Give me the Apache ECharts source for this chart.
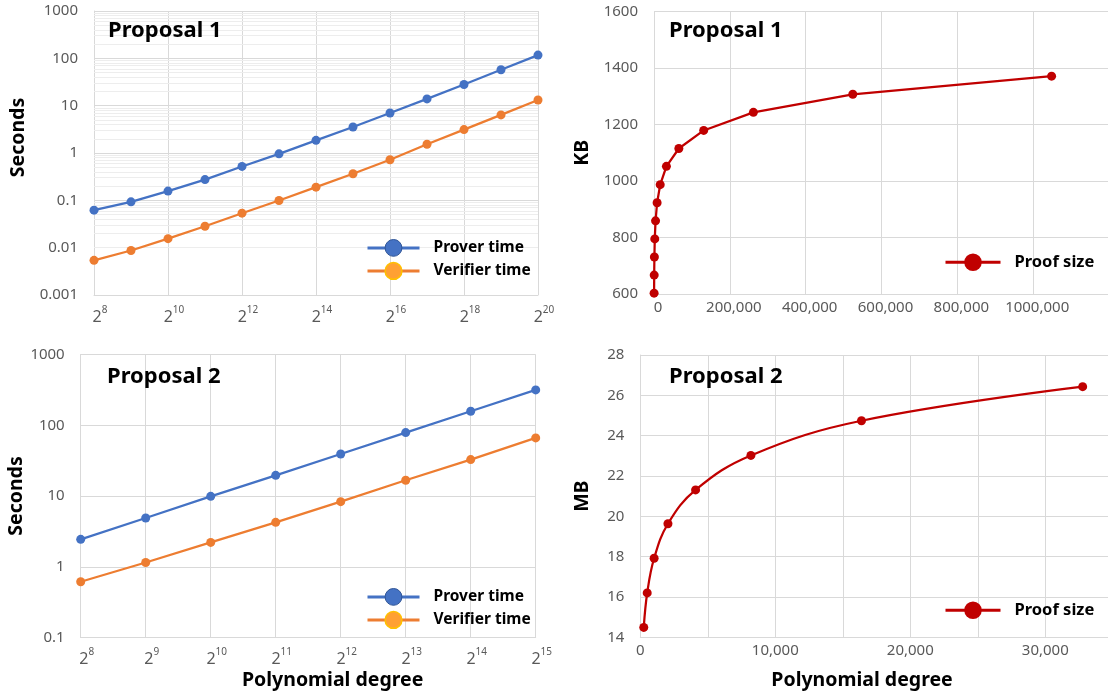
<!DOCTYPE html>
<html><head><meta charset="utf-8">
<script src="https://cdn.jsdelivr.net/npm/echarts@6/dist/echarts.min.js"></script>
<style>html,body{margin:0;padding:0;background:#fff}#c{width:1108px;height:695px}</style>
</head><body><div id="c"></div>
<script>
// ---------- data ----------
const p1Exponents = [8, 9, 10, 11, 12, 13, 14, 15, 16, 17, 18, 19, 20];
const p1ProverTime = [0.062, 0.093, 0.157, 0.274, 0.52, 0.96, 1.85, 3.55, 7.0, 13.9, 28.0, 57.3, 117];
const p1VerifierTime = [0.0054, 0.0087, 0.0155, 0.0283, 0.0535, 0.099, 0.19, 0.365, 0.72, 1.53, 3.12, 6.38, 13.2];

const p2Exponents = [8, 9, 10, 11, 12, 13, 14, 15];
const p2ProverTime = [2.44, 4.89, 9.89, 19.6, 39.3, 78.7, 158, 316];
const p2VerifierTime = [0.614, 1.15, 2.21, 4.24, 8.31, 16.7, 32.7, 66.2];

const p1Degrees = [256, 512, 1024, 2048, 4096, 8192, 16384, 32768, 65536, 131072, 262144, 524288, 1048576];
const p1ProofSizeKB = [603, 667, 731, 795, 859, 923, 987, 1052, 1115, 1179, 1243, 1307, 1371];

const p2Degrees = [256, 512, 1024, 2048, 4096, 8192, 16384, 32768];
const p2ProofSizeMB = [14.49, 16.2, 17.92, 19.63, 21.31, 23.02, 24.74, 26.43];

const logTickLabels = ['0.001', '0.01', '0.1', '1', '10', '100', '1000'];
const p1SizeXTickLabels = ['0', '200,000', '400,000', '600,000', '800,000', '1000,000', ''];
const p2SizeXTickLabels = ['0', '', '10,000', '', '20,000', '', '30,000', ''];
const seriesNames = ['Prover time', 'Verifier time', 'Proof size'];
const panelTitles = ['Proposal 1', 'Proposal 1', 'Proposal 2', 'Proposal 2'];

// ---------- styles ----------
const FONT = 'Noto Sans';
const GRID = '#D9D9D9';
const TICK = '#595959';
const BLUE = '#4472C4', ORANGE = '#ED7D31', RED = '#C00000';

const tickLabel = { fontFamily: FONT, fontSize: 15, color: TICK };
const nameStyle = (pad) => ({ fontFamily: FONT, fontSize: 19.5, fontWeight: 'bold', color: '#000', padding: pad });
const supRich = {
  b: { fontFamily: FONT, fontSize: 16, color: TICK, lineHeight: 20, verticalAlign: 'bottom' },
  s: { fontFamily: FONT, fontSize: 10, color: TICK, lineHeight: 20, verticalAlign: 'top' }
};
const logLabel = (v) => logTickLabels[Math.round(Math.log10(v)) + 3];

const minorVals = [];
for (let k = -3; k < 3; k++) for (let m = 2; m <= 9; m++) minorVals.push(+(m * Math.pow(10, k)).toPrecision(3));

function lineSeries(name, x, y, data, color, extra) {
  return Object.assign({
    name, type: 'line', xAxisIndex: x, yAxisIndex: y, data,
    symbol: 'circle', symbolSize: 9, color,
    itemStyle: { color }, lineStyle: { color, width: 2.25 },
    emphasis: { disabled: true }, animation: false
  }, extra || {});
}

const legendText = (size) => ({ fontFamily: FONT, fontSize: size, fontWeight: 'bold', color: '#000', padding: [0, 0, 0, 9] });
const timeLegendData = [
  { name: seriesNames[0], itemStyle: { color: BLUE, borderColor: '#2F5597', borderWidth: 1 } },
  { name: seriesNames[1], itemStyle: { color: '#FFA033', borderColor: '#FFC000', borderWidth: 1.5 } }
];
const timeLegend = (top) => ({
  left: 366, top, orient: 'vertical', padding: 0, itemGap: 5, itemWidth: 52, itemHeight: 21,
  selectedMode: false, data: timeLegendData, textStyle: legendText(15.5), lineStyle: { width: 3 }
});
const sizeLegend = (top) => ({
  left: 944, top, orient: 'vertical', padding: 0, itemWidth: 55, itemHeight: 22,
  selectedMode: false, data: [{ name: seriesNames[2], itemStyle: { color: RED } }],
  textStyle: legendText(16.5), lineStyle: { width: 3 }
});

const titleStyle = { fontFamily: FONT, fontSize: 22, fontWeight: 'bold', color: '#000' };

const option = {
  backgroundColor: '#fff',
  animation: false,
  title: [
    { text: panelTitles[0], left: 108, top: 20, padding: 0, textStyle: titleStyle },
    { text: panelTitles[1], left: 669, top: 20, padding: 0, textStyle: titleStyle },
    { text: panelTitles[2], left: 107, top: 366, padding: 0, textStyle: titleStyle },
    { text: panelTitles[3], left: 669, top: 366, padding: 0, textStyle: titleStyle }
  ],
  legend: [timeLegend(239), sizeLegend(253.5), timeLegend(588), sizeLegend(601.5)],
  grid: [
    { left: 94, top: 11, width: 444, height: 284, outerBoundsMode: 'none' },
    { left: 654, top: 11.5, width: 455, height: 282.5, outerBoundsMode: 'none' },
    { left: 80.7, top: 354.5, width: 455, height: 283, outerBoundsMode: 'none' },
    { left: 640.3, top: 355, width: 472.5, height: 282.3, outerBoundsMode: 'none' }
  ],
  xAxis: [
    { gridIndex: 0, type: 'category', data: p1Exponents.map(String), boundaryGap: false,
      axisLine: { lineStyle: { color: GRID } }, axisTick: { show: false },
      axisLabel: { interval: 1, margin: 10, formatter: (e) => '{b|2}{s|' + e + '}', rich: supRich, padding: [0, 0, 0, 12] },
      splitLine: { show: true, interval: 1, lineStyle: { color: GRID } } },
    { gridIndex: 1, type: 'value', min: 0, max: 1200000, interval: 200000,
      axisLine: { show: true, lineStyle: { color: GRID } }, axisTick: { show: false },
      axisLabel: Object.assign({}, tickLabel, { margin: 6, padding: [0, 0, 0, 8],
        formatter: (v) => p1SizeXTickLabels[Math.round(v / 200000)] }),
      splitLine: { show: true, lineStyle: { color: GRID } } },
    { gridIndex: 2, type: 'category', data: p2Exponents.map(String), boundaryGap: false,
      axisLine: { lineStyle: { color: GRID } }, axisTick: { show: false },
      axisLabel: { interval: 0, margin: 10, formatter: (e) => '{b|2}{s|' + e + '}', rich: supRich, padding: [0, 0, 0, 12] },
      splitLine: { show: true, interval: 0, lineStyle: { color: GRID } },
      name: 'Polynomial degree', nameLocation: 'middle', nameGap: 33, nameTextStyle: nameStyle([0, 0, 0, 49]) },
    { gridIndex: 3, type: 'value', min: 0, max: 35000, interval: 5000,
      axisLine: { show: true, lineStyle: { color: GRID } }, axisTick: { show: false },
      axisLabel: Object.assign({}, tickLabel, { margin: 6,
        formatter: (v) => p2SizeXTickLabels[Math.round(v / 5000)] }),
      splitLine: { show: true, lineStyle: { color: GRID } },
      name: 'Polynomial degree', nameLocation: 'middle', nameGap: 33, nameTextStyle: nameStyle([0, 29, 0, 0]) }
  ],
  yAxis: [
    { gridIndex: 0, type: 'log', logBase: 10, min: 0.001, max: 1000, splitNumber: 6,
      axisLine: { show: true, lineStyle: { color: GRID } }, axisTick: { show: false },
      axisLabel: Object.assign({}, tickLabel, { margin: 16, formatter: logLabel }),
      splitLine: { show: true, lineStyle: { color: GRID } },
      name: 'Seconds', nameLocation: 'middle', nameGap: 66, nameTextStyle: nameStyle([0, 0, 0, 31]) },
    { gridIndex: 1, type: 'value', min: 600, max: 1600, interval: 200,
      axisLine: { show: true, lineStyle: { color: GRID } }, axisTick: { show: false },
      axisLabel: Object.assign({}, tickLabel, { margin: 16, formatter: (v) => String(v) }),
      splitLine: { show: true, lineStyle: { color: GRID } },
      name: 'KB', nameLocation: 'middle', nameGap: 62, nameTextStyle: nameStyle(0) },
    { gridIndex: 2, type: 'log', logBase: 10, min: 0.1, max: 1000, splitNumber: 4,
      axisLine: { show: true, lineStyle: { color: GRID } }, axisTick: { show: false },
      axisLabel: Object.assign({}, tickLabel, { margin: 16, formatter: logLabel }),
      splitLine: { show: true, lineStyle: { color: GRID } },
      name: 'Seconds', nameLocation: 'middle', nameGap: 52.7, nameTextStyle: nameStyle(0) },
    { gridIndex: 3, type: 'value', min: 14, max: 28, interval: 2,
      axisLine: { show: true, lineStyle: { color: GRID } }, axisTick: { show: false },
      axisLabel: Object.assign({}, tickLabel, { margin: 16, formatter: (v) => String(v) }),
      splitLine: { show: true, lineStyle: { color: GRID } },
      name: 'MB', nameLocation: 'middle', nameGap: 48, nameTextStyle: nameStyle(0) }
  ],
  series: [
    lineSeries(seriesNames[0], 0, 0, p1ProverTime, BLUE, {
      markLine: { silent: true, symbol: 'none', z: 1, animation: false, label: { show: false },
        lineStyle: { color: '#EDEDED', width: 1, type: 'solid' }, emphasis: { disabled: true },
        data: minorVals.map((v) => ({ yAxis: v })) }
    }),
    lineSeries(seriesNames[1], 0, 0, p1VerifierTime, ORANGE),
    lineSeries(seriesNames[2], 1, 1, p1Degrees.map((d, i) => [d, p1ProofSizeKB[i]]), RED),
    lineSeries(seriesNames[0], 2, 2, p2ProverTime, BLUE),
    lineSeries(seriesNames[1], 2, 2, p2VerifierTime, ORANGE),
    lineSeries(seriesNames[2], 3, 3, p2Degrees.map((d, i) => [d, p2ProofSizeMB[i]]), RED, { smooth: 0.4 })
  ]
};

const chart = echarts.init(document.getElementById('c'), null, { renderer: 'canvas' });
chart.setOption(option);
</script>
</body></html>
